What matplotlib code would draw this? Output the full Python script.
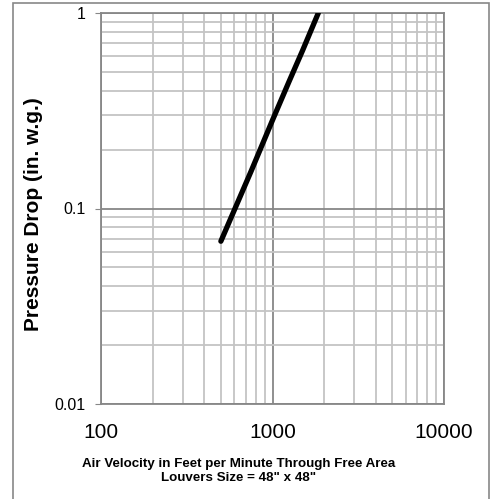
import matplotlib.pyplot as plt
from matplotlib.patches import Rectangle

plt.rcParams['font.family'] = ['Liberation Sans', 'DejaVu Sans']

# air velocity (fpm) vs pressure drop (in. w.g.)
velocity = [500, 750, 1000, 1250, 1500, 1850]
pressure = [0.068, 0.155, 0.283, 0.447, 0.645, 1.0]

fig = plt.figure(figsize=(4.93, 4.99), dpi=100)
ax = fig.add_axes([101 / 493, 1 - 404 / 499, 343 / 493, 391 / 499])

ax.plot(velocity, pressure, color='black', linewidth=3.8, solid_capstyle='round', zorder=3)

ax.set_xscale('log')
ax.set_yscale('log')
ax.set_xlim(100, 10000)
ax.set_ylim(0.01, 1)

ax.grid(which='minor', color='#c4c4c4', linewidth=1.3)
ax.grid(which='major', color='#878787', linewidth=1.3)
ax.set_axisbelow(True)

ax.set_xticks([100, 1000, 10000])
ax.set_xticklabels(['100', '1000', '10000'], fontsize=15)
ax.set_yticks([0.01, 0.1, 1])
ax.set_yticklabels(['0.01', '0.1', '1'], fontsize=11.5)
ax.tick_params(axis='x', which='both', length=0, pad=14)
ax.tick_params(axis='y', which='major', length=4, color='#878787', pad=7)
ax.tick_params(axis='y', which='minor', length=0)

for s in ax.spines.values():
    s.set_color('#878787')
    s.set_linewidth(1.3)

ax.set_ylabel('Pressure Drop (in. w.g.)', fontsize=15, fontweight='bold')
ax.yaxis.set_label_coords((43 - 101) / 343, 0.5 - 5.5 / 391)
fig.text(239 / 493, 1 - 471 / 499, 'Air Velocity in Feet per Minute Through Free Area\nLouvers Size = 48" x 48"',
         ha='center', va='center', fontsize=9.6, fontweight='bold', linespacing=1.3)

# outer chart border
fig.patches.append(Rectangle((13 / 493, -0.01), 476 / 493, 1 - 3 / 499 + 0.01, transform=fig.transFigure,
                             fill=False, edgecolor='#878787', linewidth=1.2))

fig.savefig('out.png', dpi=100)
